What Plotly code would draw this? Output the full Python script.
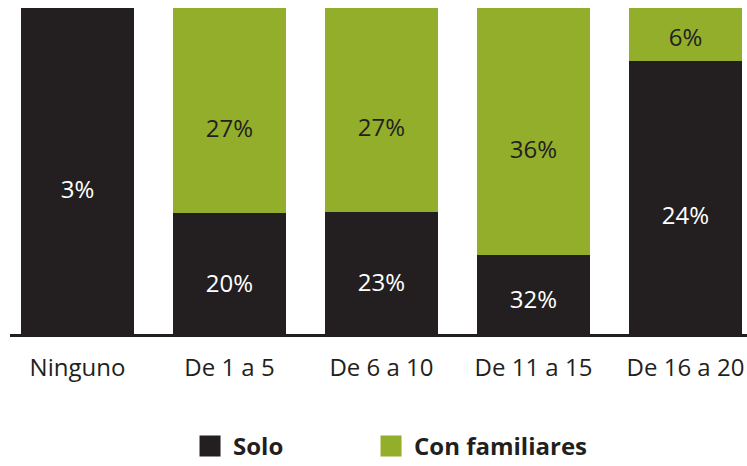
import plotly.graph_objects as go

categories = ["Ninguno", "De 1 a 5", "De 6 a 10", "De 11 a 15", "De 16 a 20"]
# printed labels
solo_labels = ["3%", "20%", "23%", "32%", "24%"]
fam_labels = ["", "27%", "27%", "36%", "6%"]
# segment shares of each bar (percent of bar height)
solo_share = [100, 37.1, 37.4, 24.2, 83.7]
fam_share = [0, 62.9, 62.6, 75.8, 16.3]

BLACK = "#231f20"
GREEN = "#92ae2b"
FONT = "Open Sans"
BAR_W = 0.743


def label_y(base, share):
    # labels sit a little below the middle of their segment
    return base + share / 2 - min(6.3, share * 0.1)


fig = go.Figure()
fig.add_trace(go.Bar(
    x=categories, y=solo_share, name="Solo", marker=dict(color=BLACK, line_width=0),
    showlegend=False, width=BAR_W, hoverinfo="skip"))
fig.add_trace(go.Bar(
    x=categories, y=fam_share, name="Con familiares", marker=dict(color=GREEN, line_width=0),
    showlegend=False, width=BAR_W, hoverinfo="skip"))

solo_y = [label_y(0, s) for s in solo_share]
fam_y = [label_y(s, f) for s, f in zip(solo_share, fam_share)]
fig.add_trace(go.Scatter(
    x=categories, y=solo_y, mode="text", text=solo_labels, textposition="middle center",
    textfont=dict(color="white", size=24, family=FONT), showlegend=False, hoverinfo="skip"))
fig.add_trace(go.Scatter(
    x=categories, y=fam_y, mode="text", text=fam_labels, textposition="middle center",
    textfont=dict(color=BLACK, size=24, family=FONT), showlegend=False, hoverinfo="skip"))

# legend entries (one legend each so spacing can match)
for name, col, lg in [("Solo", BLACK, "legend"), ("Con familiares", GREEN, "legend2")]:
    fig.add_trace(go.Scatter(x=[None], y=[None], mode="markers", name=name, legend=lg,
                             marker=dict(symbol="square", size=16, color=col,
                                         line=dict(color=col, width=5))))

legend_common = dict(orientation="h", xanchor="left", y=-0.345, yanchor="middle",
                     font=dict(size=24, color=BLACK, family=FONT, weight="bold"),
                     itemsizing="trace", itemwidth=36, bgcolor="rgba(0,0,0,0)")

fig.update_layout(
    barmode="stack",
    width=747, height=466,
    margin=dict(l=10, r=0, t=8, b=132, autoexpand=False),
    paper_bgcolor="white", plot_bgcolor="white",
    font=dict(family=FONT, color=BLACK, size=24),
    xaxis=dict(range=[-0.444, 4.405], showline=True, linecolor=BLACK, linewidth=3,
               ticks="outside", ticklen=10, tickcolor="rgba(0,0,0,0)",
               tickfont=dict(size=24, color=BLACK, family=FONT), showgrid=False, zeroline=False,
               fixedrange=True),
    yaxis=dict(range=[0, 100], visible=False, fixedrange=True),
    legend=dict(x=0.2402, **legend_common),
    legend2=dict(x=0.4858, **legend_common),
)
fig.write_html("out.html", config={"displayModeBar": False},
               post_script="document.body.style.margin='0';")
